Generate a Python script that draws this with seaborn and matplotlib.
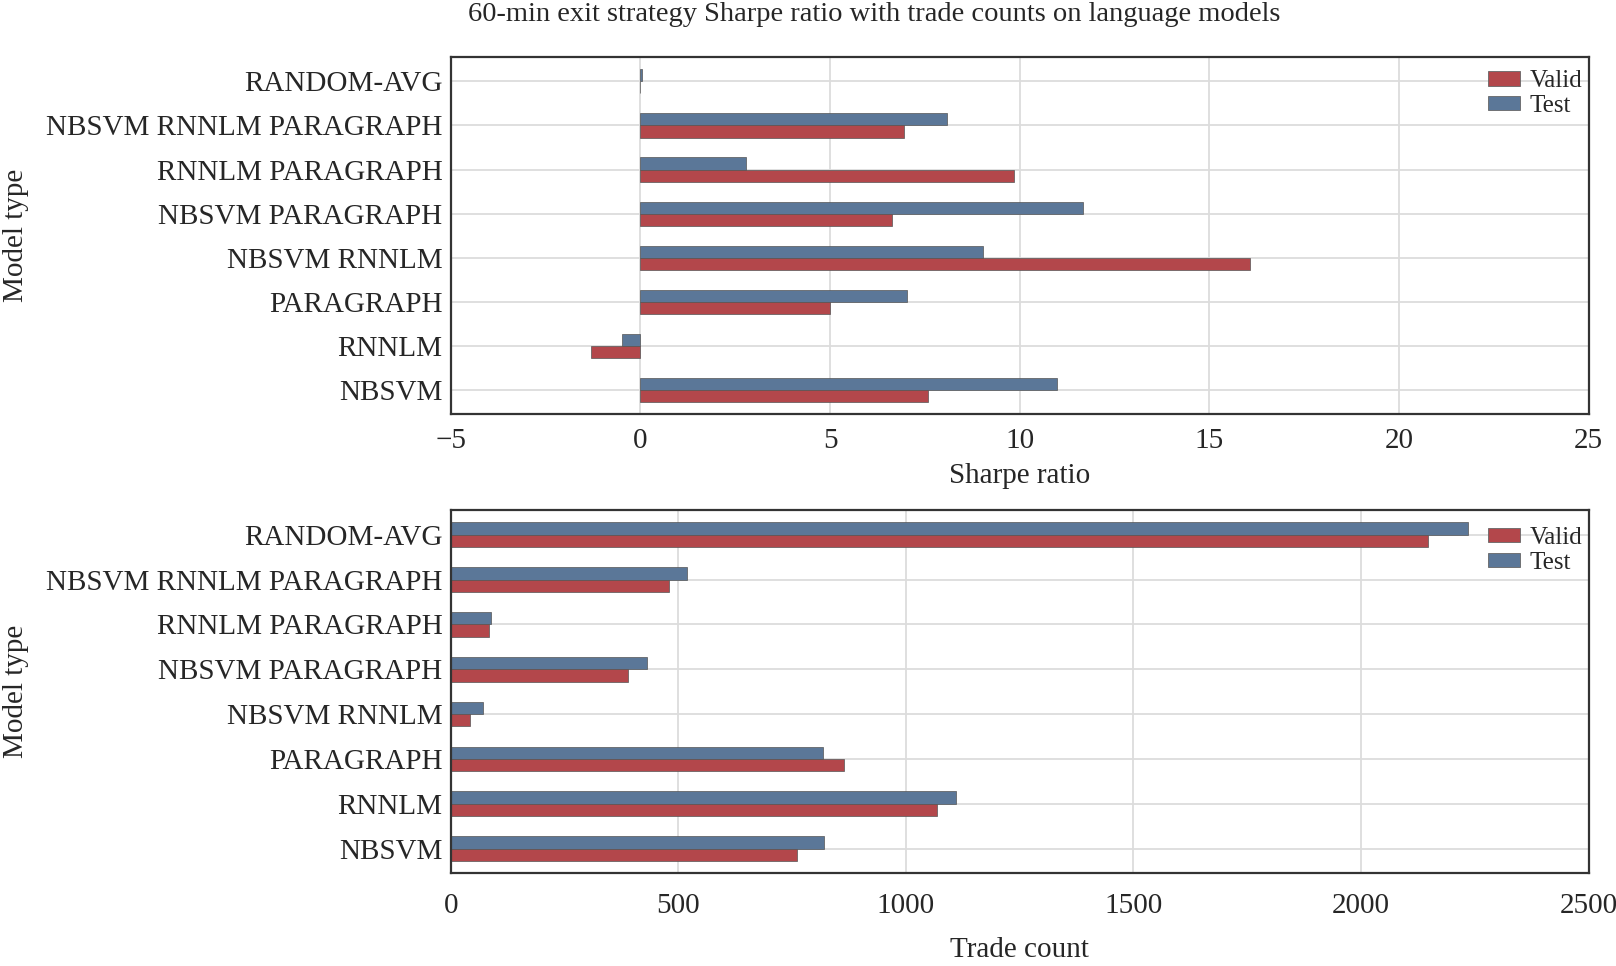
import pandas as pd
import matplotlib.pyplot as plt
import seaborn as sns
from matplotlib.patches import Patch

# data, top-down order of the chart
models = ['RANDOM-AVG', 'NBSVM RNNLM PARAGRAPH', 'RNNLM PARAGRAPH', 'NBSVM PARAGRAPH',
          'NBSVM RNNLM', 'PARAGRAPH', 'RNNLM', 'NBSVM']
sharpe_valid = [0.0, 6.95, 9.84, 6.62, 16.08, 5.01, -1.31, 7.57]
sharpe_test = [0.05, 8.07, 2.78, 11.66, 9.02, 7.03, -0.49, 10.98]
trades_valid = [2147, 480, 84, 389, 41, 865, 1069, 761]
trades_test = [2235, 520, 88, 430, 70, 817, 1109, 819]

VALID_COLOR = '#b3474b'
TEST_COLOR = '#5b7798'


def long_frame(valid, test):
    return pd.DataFrame({
        'model': models * 2,
        'value': valid + test,
        'split': ['Valid'] * len(models) + ['Test'] * len(models),
    })


def draw(ax, df, xlim, xticks, xlabel, tick_pad, label_pad, legend_y):
    sns.barplot(data=df, y='model', x='value', hue='split', order=models,
                hue_order=['Test', 'Valid'], palette={'Valid': VALID_COLOR, 'Test': TEST_COLOR},
                orient='h', width=0.55, edgecolor='#555555', linewidth=0.5,
                errorbar=None, saturation=1, ax=ax, legend=False)
    ax.set_xlim(*xlim)
    ax.set_xticks(xticks)
    ax.set_ylim(len(models) - 0.5 + 0.05, -0.5 - 0.05)
    ax.set_xlabel(xlabel, fontsize=21, labelpad=label_pad)
    ax.set_ylabel('Model type', fontsize=21, labelpad=12)
    ax.tick_params(axis='x', labelsize=21, length=0, pad=tick_pad)
    ax.tick_params(axis='y', labelsize=21, length=0, pad=6)
    ax.grid(True, color='#dcdcdc', linewidth=1.3)
    ax.set_axisbelow(True)
    for sp in ax.spines.values():
        sp.set_visible(True)
        sp.set_color('#333333')
        sp.set_linewidth(1.6)
    handles = [Patch(facecolor=VALID_COLOR, edgecolor='#666666', linewidth=0.6, label='Valid'),
               Patch(facecolor=TEST_COLOR, edgecolor='#666666', linewidth=0.6, label='Test')]
    ax.legend(handles=handles, loc='upper right', bbox_to_anchor=(1.0, legend_y),
              frameon=False, fontsize=18,
              handlelength=1.25, handleheight=0.5, handletextpad=0.4,
              labelspacing=0.1, borderaxespad=0.05, borderpad=0.2)


def main():
    sns.set_style('whitegrid')
    plt.rcParams['font.family'] = ['Liberation Serif', 'DejaVu Serif']

    fig = plt.figure(figsize=(16.16, 9.66), dpi=100)
    ax1 = fig.add_axes([0.279, 0.571, 0.704, 0.370])
    ax2 = fig.add_axes([0.279, 0.096, 0.704, 0.376])

    draw(ax1, long_frame(sharpe_valid, sharpe_test), (-5, 25), [-5, 0, 5, 10, 15, 20, 25],
         'Sharpe ratio', 10, 6, 0.98)
    draw(ax2, long_frame(trades_valid, trades_test), (0, 2500), [0, 500, 1000, 1500, 2000, 2500],
         'Trade count', 14, 13, 0.97)

    fig.text(0.541, 0.985, '60-min exit strategy Sharpe ratio with trade counts on language models',
             ha='center', va='center', fontsize=20.5)

    fig.savefig('out.png', dpi=100)
    plt.close(fig)


if __name__ == '__main__':
    main()
